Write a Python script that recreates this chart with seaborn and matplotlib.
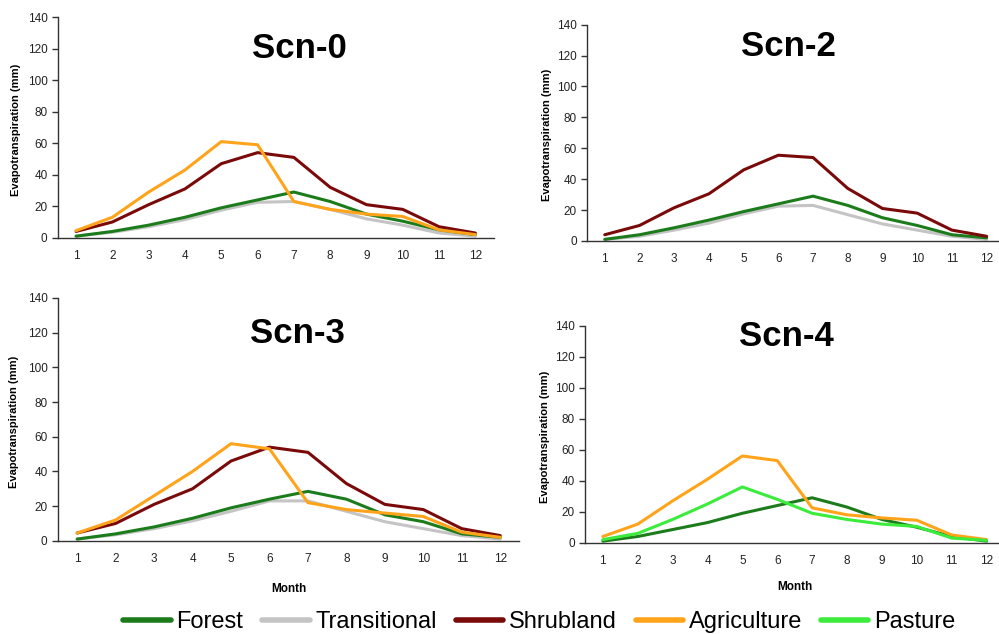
import pandas as pd
import matplotlib.pyplot as plt
import seaborn as sns
from matplotlib.lines import Line2D

# Months on the x axis
months = list(range(1, 13))

# Land cover classes and colours
covers = ["Forest", "Transitional", "Shrubland", "Agriculture", "Pasture"]
cover_colors = ["#1c7c1c", "#c4c4c4", "#7a0a0a", "#ffa41a", "#3cec3c"]

# Scn-0
scn0_forest = [1, 4, 8, 13, 19, 24, 29, 23, 15, 10.5, 5, 2]
scn0_transitional = [1, 3.5, 7, 11.5, 17.5, 22.5, 23, 18, 12, 8, 3, 1]
scn0_shrubland = [4, 10, 21, 31, 47, 54, 51, 32, 21, 18, 7, 3]
scn0_agriculture = [4.5, 13, 29, 43, 61, 59, 23, 18, 15, 13.5, 5, 2]

# Scn-2
scn2_forest = [1, 4, 8.5, 13.5, 19, 24, 29, 23, 15, 10, 4, 2]
scn2_transitional = [1, 3, 7, 11.5, 17.5, 22.5, 23, 17, 11, 7, 3, 1]
scn2_shrubland = [4, 10, 21.5, 30.5, 46, 55.5, 54, 34, 21, 18, 7, 3]

# Scn-3
scn3_forest = [1, 4, 8, 13, 19, 24, 28.5, 24, 15, 11, 4, 2]
scn3_transitional = [1, 3.5, 7, 11.5, 17, 23, 23, 17, 11, 7, 3, 1]
scn3_shrubland = [4.5, 10, 21, 30, 46, 54, 51, 33, 21, 18, 7, 3]
scn3_agriculture = [4.5, 12, 26, 40, 56, 53, 22, 18, 16, 14, 5, 2]

# Scn-4
scn4_forest = [1, 4, 8.5, 13, 19, 24, 29, 23, 15, 10, 4, 1]
scn4_agriculture = [4, 12, 27, 41, 56, 53, 22.5, 18, 16, 14.5, 5, 2]
scn4_pasture = [2, 6, 15, 25, 36, 28, 19, 15, 12, 10.5, 3, 1.5]

scenarios = {
    "Scn-0": {"Transitional": scn0_transitional, "Forest": scn0_forest,
              "Shrubland": scn0_shrubland, "Agriculture": scn0_agriculture},
    "Scn-2": {"Transitional": scn2_transitional, "Forest": scn2_forest,
              "Shrubland": scn2_shrubland},
    "Scn-3": {"Transitional": scn3_transitional, "Forest": scn3_forest,
              "Shrubland": scn3_shrubland, "Agriculture": scn3_agriculture},
    "Scn-4": {"Forest": scn4_forest, "Agriculture": scn4_agriculture,
              "Pasture": scn4_pasture},
}

rows = []
for scn, series in scenarios.items():
    for cover, vals in series.items():
        for m, v in zip(months, vals):
            rows.append({"Scenario": scn, "Cover": cover, "Month": m, "ET": v})
df = pd.DataFrame(rows)

palette = dict(zip(covers, cover_colors))

sns.set_style("white")
plt.rcParams["font.family"] = ["Liberation Sans", "DejaVu Sans"]
plt.rcParams["text.color"] = "black"
plt.rcParams["axes.labelcolor"] = "black"

fig = plt.figure(figsize=(9.99, 6.34), dpi=100)

# axes rectangles [left, bottom, width, height] and title position
panels = [
    ("Scn-0", [0.058, 0.625, 0.436, 0.348], (0.554, 0.86), False),
    ("Scn-2", [0.588, 0.620, 0.417, 0.341], (0.482, 0.898), False),
    ("Scn-3", [0.058, 0.147, 0.462, 0.383], (0.518, 0.852), True),
    ("Scn-4", [0.586, 0.144, 0.419, 0.342], (0.481, 0.949), True),
]

for scn, rect, tpos, show_month in panels:
    ax = fig.add_axes(rect)
    sub = df[df["Scenario"] == scn]
    order = [c for c in ["Transitional", "Forest", "Shrubland", "Agriculture", "Pasture"]
             if c in sub["Cover"].unique()]
    for cover in order:
        sns.lineplot(data=sub[sub["Cover"] == cover], x="Month", y="ET",
                     color=palette[cover], linewidth=2.2, ax=ax, legend=False)

    ax.set_xlim(0.5, 12.5)
    ax.set_ylim(0, 140)
    ax.set_yticks(range(0, 141, 20))
    ax.set_xticks(months)
    ax.set_xticks([m + 0.5 for m in range(0, 13)], minor=True)
    ax.tick_params(axis="x", which="major", length=0, pad=9, labelsize=8.5, labelcolor="#222222")
    ax.tick_params(axis="x", which="minor", length=4, width=1, color="#333333", direction="out")
    ax.tick_params(axis="y", length=4, width=1, color="#333333", direction="out",
                   labelsize=8.5, labelcolor="#222222", left=True)

    sns.despine(ax=ax)
    for side in ["left", "bottom"]:
        ax.spines[side].set_color("#333333")
        ax.spines[side].set_linewidth(1)

    ax.set_ylabel("Evapotranspiration (mm)", fontsize=8, fontweight="bold")
    ax.yaxis.set_label_coords(-0.085, 0.49)
    if show_month:
        ax.set_xlabel("Month", fontsize=8.5, fontweight="bold")
        ax.xaxis.set_label_coords(0.5, -0.175)
    else:
        ax.set_xlabel("")

    ax.text(tpos[0], tpos[1], scn, transform=ax.transAxes, ha="center", va="center",
            fontsize=25, fontweight="bold", color="black")

handles = [Line2D([0], [0], color=c, linewidth=4) for c in cover_colors]
fig.legend(handles, covers, loc="center", bbox_to_anchor=(0.54, 0.019), ncol=5,
           frameon=False, fontsize=17, handlelength=2.0, handletextpad=0.25,
           columnspacing=0.8)

fig.savefig("out.png", dpi=100)
